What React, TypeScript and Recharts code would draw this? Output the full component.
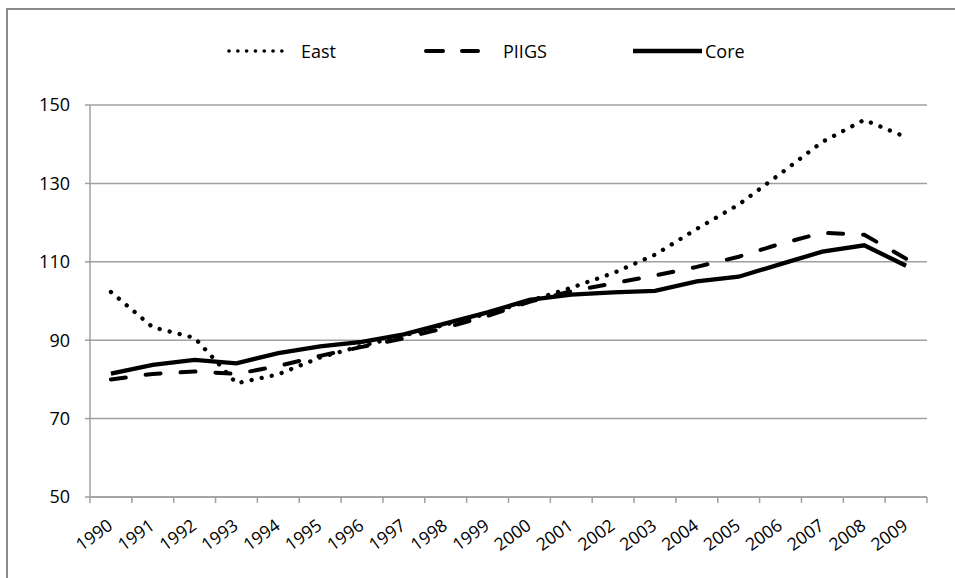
import { CartesianGrid, Legend, Line, LineChart, XAxis, YAxis } from 'recharts';

const years = ['1990', '1991', '1992', '1993', '1994', '1995', '1996', '1997', '1998', '1999', '2000', '2001', '2002', '2003', '2004', '2005', '2006', '2007', '2008', '2009'];
const east = [102.3, 93.3, 90.6, 79.0, 81.3, 85.6, 88.6, 91.2, 94.0, 96.8, 100.0, 103.4, 107.1, 111.8, 118.4, 124.6, 132.5, 140.6, 146.2, 141.8];
const piigs = [80.0, 81.4, 82.0, 81.4, 83.4, 86.0, 88.3, 90.5, 93.2, 96.2, 99.8, 102.5, 104.5, 106.5, 108.7, 111.3, 114.6, 117.4, 116.9, 110.8];
const core = [81.5, 83.7, 85.0, 84.1, 86.7, 88.4, 89.6, 91.5, 94.3, 97.1, 100.3, 101.6, 102.2, 102.6, 105.0, 106.2, 109.4, 112.6, 114.2, 109.0];
const yTicks = [50, 70, 90, 110, 130, 150];

const data = years.map((year, i) => ({ year, East: east[i], PIIGS: piigs[i], Core: core[i] }));

const W = 955;
const H = 578;
const PLOT_LEFT = 90;
const PLOT_RIGHT = 927;
const STEP = (PLOT_RIGHT - PLOT_LEFT) / years.length;
const GRID = '#a0a0a0';
const FONT = '"Open Sans", sans-serif';

// legend sample + label layout, Excel style
const legendItems = [
  { name: 'East', x: 229, len: 61, textX: 301, dash: '0.1 8.7', width: 3.6, cap: 'round' as const },
  { name: 'PIIGS', x: 426, len: 52, textX: 503, dash: '17 19', width: 4, cap: 'round' as const },
  { name: 'Core', x: 633, len: 69, textX: 705, dash: undefined, width: 4.5, cap: 'butt' as const },
];

function LegendContent() {
  return (
    <svg width={W} height={30} style={{ display: 'block' }}>
      {legendItems.map((it) => (
        <g key={it.name}>
          <line x1={it.x} x2={it.x + it.len} y1={11} y2={11} stroke="#000" strokeWidth={it.width} strokeDasharray={it.dash} strokeLinecap={it.cap} />
          <text x={it.textX} y={17.5} style={{ fontSize: 18, fontFamily: FONT }} fill="#000">
            {it.name}
          </text>
        </g>
      ))}
    </svg>
  );
}

function ValueTick(props: any) {
  const { x, y, payload } = props;
  return (
    <g>
      <line x1={PLOT_LEFT - 5} x2={PLOT_LEFT} y1={y} y2={y} stroke={GRID} strokeWidth={1.5} />
      <text x={PLOT_LEFT - 20} y={y} dy="0.35em" textAnchor="end" fontSize={18} fontFamily={FONT} fill="#000">
        {payload.value}
      </text>
    </g>
  );
}

function YearTick(props: any) {
  const { x, y, payload, index } = props;
  const axisY = y - 8;
  const last = index === years.length - 1;
  return (
    <g>
      <line x1={x - STEP / 2} x2={x - STEP / 2} y1={axisY} y2={axisY + 6} stroke={GRID} strokeWidth={1.5} />
      {last && <line x1={x + STEP / 2} x2={x + STEP / 2} y1={axisY} y2={axisY + 6} stroke={GRID} strokeWidth={1.5} />}
      <text x={x + 3} y={axisY + 31} textAnchor="end" fontSize={17.5} fontFamily={FONT} fill="#000" transform={`rotate(-36, ${x + 3}, ${axisY + 31})`}>
        {payload.value}
      </text>
    </g>
  );
}

export default function App() {
  return (
    <div style={{ position: 'absolute', left: 0, top: 0, width: W, height: H, overflow: 'hidden', background: '#fff' }}>
      <div style={{ position: 'absolute', left: 6, top: 8, width: 1100, height: 700, border: '2px solid #8c8c8c', boxSizing: 'border-box' }} />
      <LineChart width={W} height={H} data={data} margin={{ top: 40, right: W - PLOT_RIGHT, bottom: 0, left: 0 }}>
        <Legend verticalAlign="top" align="left" height={65} content={<LegendContent />} wrapperStyle={{ left: 0, top: 40, height: 65 }} />
        <CartesianGrid vertical={false} stroke={GRID} strokeWidth={1.5} />
        <XAxis
          dataKey="year"
          height={81}
          interval={0}
          padding={{ left: STEP / 2, right: STEP / 2 }}
          tickLine={false}
          axisLine={{ stroke: GRID, strokeWidth: 1.5 }}
          tick={<YearTick />}
        />
        <YAxis
          width={PLOT_LEFT}
          domain={[50, 150]}
          ticks={yTicks}
          tickLine={false}
          axisLine={{ stroke: GRID, strokeWidth: 1.5 }}
          tick={<ValueTick />}
        />
        <Line dataKey="East" stroke="#000" strokeWidth={4.3} strokeDasharray="0.1 10.2" strokeLinecap="round" dot={false} isAnimationActive={false} />
        <Line dataKey="PIIGS" stroke="#000" strokeWidth={4} strokeDasharray="15 20" strokeLinecap="round" dot={false} isAnimationActive={false} />
        <Line dataKey="Core" stroke="#000" strokeWidth={4.3} dot={false} isAnimationActive={false} />
      </LineChart>
    </div>
  );
}
